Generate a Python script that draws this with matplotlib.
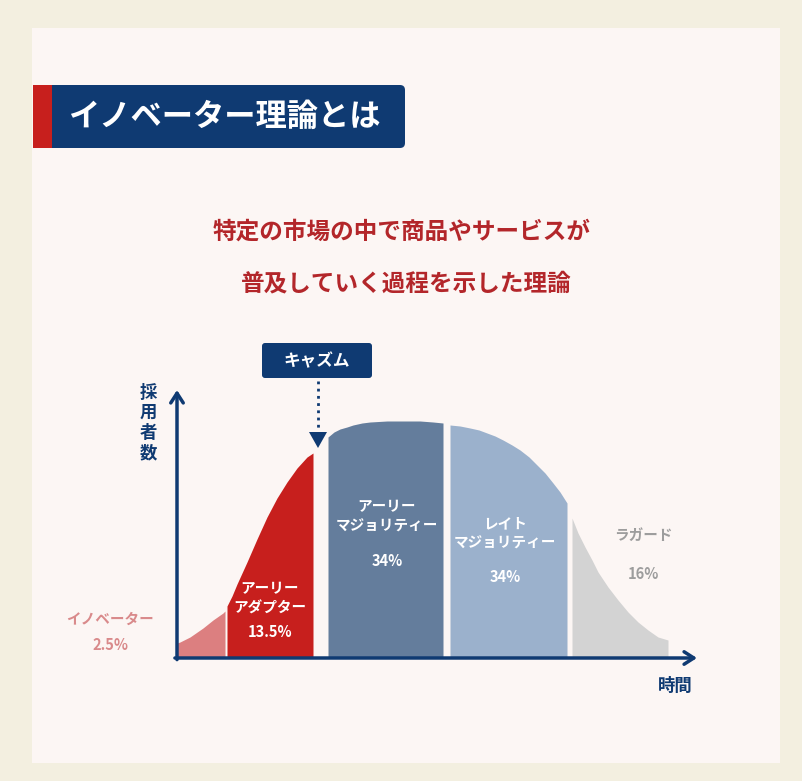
import matplotlib.pyplot as plt
from matplotlib.patches import Rectangle, FancyBboxPatch, Polygon

plt.rcParams['font.family'] = ['Noto Sans CJK JP', 'DejaVu Sans']

# curve profile (x = time, h = adopters), one list per segment
innov_x = [0, 3, 13, 26, 36, 46, 48]
innov_h = [15, 16, 21, 30, 38, 45, 47]
early_ad_x = [50, 55, 60, 70, 80, 90, 100, 110, 120, 130, 136]
early_ad_h = [52, 62, 74, 96, 119, 141, 160, 176, 190, 201, 205]
early_maj_x = [151, 157, 163, 170, 176, 185, 193, 210, 227, 243, 256, 266]
early_maj_h = [221, 226, 229, 231, 233, 235, 236, 237, 237, 237, 236, 235]
late_maj_x = [273, 283, 293, 302, 310, 318, 326, 335, 343, 352, 360, 368, 376, 383, 390]
late_maj_h = [233, 232, 230, 228, 225, 222, 218, 213, 208, 201, 193, 185, 175, 166, 155]
laggard_x = [395, 401, 408, 415, 421, 431, 441, 451, 461, 471, 481, 491]
laggard_h = [140, 125, 111, 98, 86, 71, 58, 46, 36, 28, 21, 18]

segments = [
    (innov_x, innov_h, '#dc7f80'),
    (early_ad_x, early_ad_h, '#c71f1d'),
    (early_maj_x, early_maj_h, '#647d9c'),
    (late_maj_x, late_maj_h, '#9bb1cc'),
    (laggard_x, laggard_h, '#d3d3d3'),
]

navy = '#0f3a72'
red_txt = '#b3262a'

fig = plt.figure(figsize=(8.03, 7.81), dpi=100)
fig.patch.set_facecolor('#f3efe0')

# background layer in pixel coordinates
bg = fig.add_axes([0, 0, 1, 1])
bg.set_xlim(0, 803)
bg.set_ylim(781, 0)
bg.axis('off')
bg.add_patch(Rectangle((32, 28), 748, 735, color='#fcf6f4', lw=0))

# title banner
bg.add_patch(FancyBboxPatch((33, 85), 372, 63, boxstyle='round,pad=0,rounding_size=5',
                            color=navy, lw=0))
bg.add_patch(Rectangle((33, 85), 19, 63, color='#c71f1d', lw=0))
bg.text(68, 117, 'イノベーター理論とは', color='white', fontsize=22.5, fontweight='bold',
        va='center', ha='left')

# subtitle
bg.text(402, 232, '特定の市場の中で商品やサービスが', color=red_txt, fontsize=17,
        fontweight='bold', ha='center', va='center')
bg.text(406, 283, '普及していく過程を示した理論', color=red_txt, fontsize=17,
        fontweight='bold', ha='center', va='center')

# chasm callout
bg.add_patch(FancyBboxPatch((262, 343), 110, 35, boxstyle='round,pad=0,rounding_size=3',
                            color=navy, lw=0))
bg.text(317, 361, 'キャズム', color='white', fontsize=12, fontweight='bold',
        ha='center', va='center')
bg.plot([318, 318], [381, 432], color=navy, lw=2, linestyle=(0, (1, 1.6)))
bg.add_patch(Polygon([(309, 432), (327, 432), (318, 448)], closed=True, color=navy, lw=0))

# chart
ax = fig.add_axes([177 / 803, 1 - 658 / 781, 520 / 803, 268 / 781])
ax.set_xlim(0, 520)
ax.set_ylim(0, 268)
ax.axis('off')
for xs, hs, col in segments:
    ax.fill_between(xs, 0, hs, color=col, lw=0)

ax.annotate('', xy=(1.0, 0), xytext=(-0.004, 0), xycoords='axes fraction',
            arrowprops=dict(arrowstyle='->,head_length=0.7,head_width=0.45', color=navy, lw=2.5,
                            shrinkA=0, shrinkB=0))
ax.annotate('', xy=(0, 1.0), xytext=(0, -0.006), xycoords='axes fraction',
            arrowprops=dict(arrowstyle='->,head_length=0.7,head_width=0.45', color=navy, lw=2.5,
                            shrinkA=0, shrinkB=0))

# axis labels
for i, ch in enumerate('採用者数'):
    ax.text(148, 393 + i * 20, ch, transform=bg.transData, color=navy, fontsize=12.5,
            fontweight='bold', ha='center', va='center')
ax.text(675, 686, '時間', transform=bg.transData, color=navy, fontsize=12.5,
        fontweight='bold', ha='center', va='center')

# segment labels
lab = dict(transform=bg.transData, fontsize=10.5, fontweight='bold', ha='center', va='center')
ax.text(110, 619, 'イノベーター', color='#d98a8b', **lab)
ax.text(110, 645, '2.5%', color='#d98a8b', **lab)
ax.text(270, 588, 'アーリー', color='white', **lab)
ax.text(270, 608, 'アダプター', color='white', **lab)
ax.text(270, 632, '13.5%', color='white', **lab)
ax.text(387, 506, 'アーリー', color='white', **lab)
ax.text(387, 526, 'マジョリティー', color='white', **lab)
ax.text(387, 561, '34%', color='white', **lab)
ax.text(505, 523, 'レイト', color='white', **lab)
ax.text(505, 543, 'マジョリティー', color='white', **lab)
ax.text(505, 577, '34%', color='white', **lab)
ax.text(643, 535, 'ラガード', color='#9d9d9d', **lab)
ax.text(643, 574, '16%', color='#9d9d9d', **lab)

fig.savefig('out.png', dpi=100, facecolor=fig.get_facecolor())
